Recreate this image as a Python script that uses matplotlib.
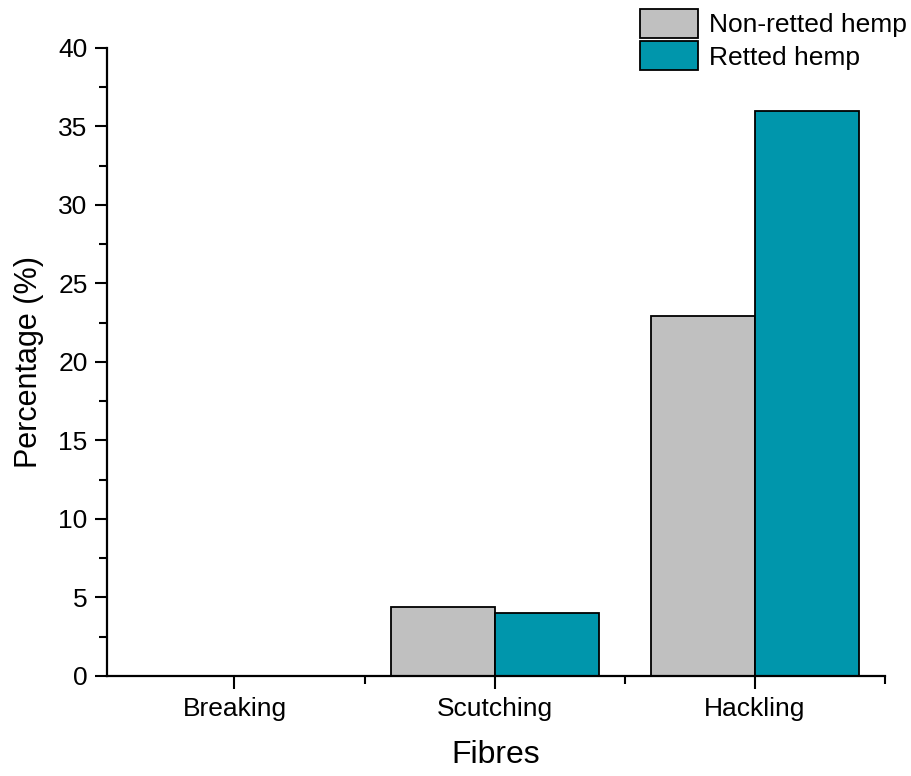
import numpy as np
import matplotlib.pyplot as plt
from matplotlib.ticker import MultipleLocator

plt.rcParams['font.family'] = ['Liberation Sans', 'DejaVu Sans']

categories = ["Breaking", "Scutching", "Hackling"]
non_retted = [0.0, 4.4, 22.9]
retted = [0.0, 4.0, 36.0]
series_names = ["Non-retted hemp", "Retted hemp"]

fig = plt.figure(figsize=(9.12, 7.76), dpi=100)
ax = fig.add_axes([0.1173, 0.1289, 0.8531, 0.8093])

x = np.arange(len(categories))
w = 0.4
b1 = ax.bar(x - w / 2, non_retted, w, color="#C0C0C0", edgecolor="black", linewidth=1.3)
b2 = ax.bar(x + w / 2, retted, w, color="#0096AC", edgecolor="black", linewidth=1.3)

ax.set_xlim(-0.49, 2.5)
ax.set_ylim(0, 40)
ax.set_xticks(x)
ax.set_xticklabels(categories)
ax.set_xticks(x + 0.5, minor=True)
ax.yaxis.set_major_locator(MultipleLocator(5))
ax.yaxis.set_minor_locator(MultipleLocator(2.5))

for s in ["top", "right"]:
    ax.spines[s].set_visible(False)
for s in ["left", "bottom"]:
    ax.spines[s].set_linewidth(1.6)

ax.tick_params(which="major", direction="out", length=9, width=1.5, labelsize=19)
ax.tick_params(which="minor", direction="out", length=5.5, width=1.5)
ax.tick_params(axis="x", pad=6)
ax.tick_params(axis="y", pad=5)

ax.set_ylabel("Percentage (%)", fontsize=22, labelpad=10)
ax.set_xlabel("Fibres", fontsize=23, labelpad=14)

fig.legend([b1, b2], series_names, loc="upper left", bbox_to_anchor=(640 / 912, 1 - 9 / 776),
           frameon=False, fontsize=19, handlelength=2.2, handleheight=1.3,
           handletextpad=0.4, labelspacing=0.14, borderpad=0, borderaxespad=0)

fig.savefig("out.png", dpi=100)
